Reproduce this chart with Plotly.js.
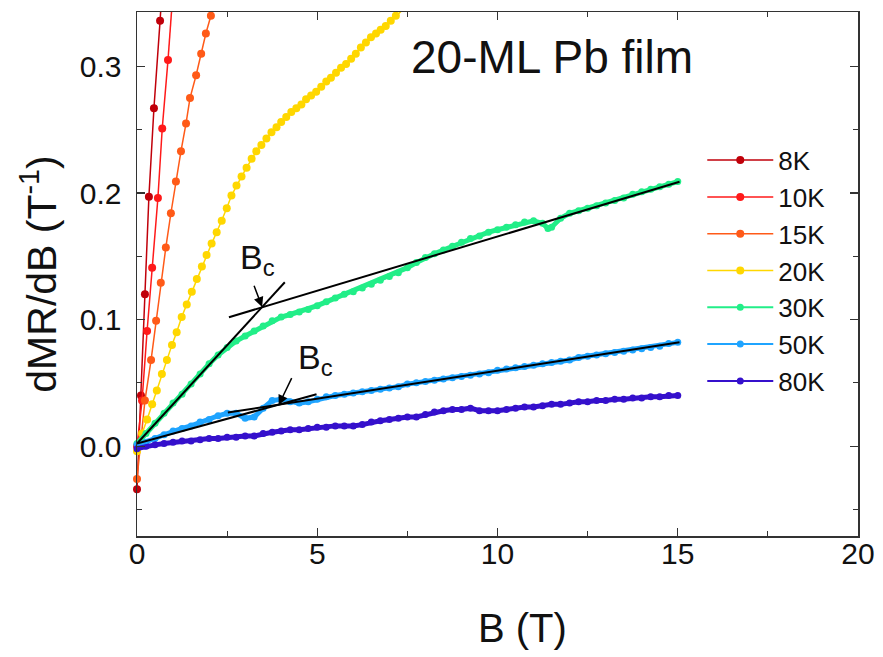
<!DOCTYPE html>
<html>
<head>
<meta charset="utf-8">
<script src="https://cdn.plot.ly/plotly-3.0.1.min.js"></script>
<style>html,body{margin:0;padding:0;background:#fff;}#chart{width:883px;height:657px;}</style>
</head>
<body>
<div id="chart"></div>
<script>
// ---- data ----
const seriesNames = ['8K','10K','15K','20K','30K','50K','80K'];
const seriesColors = ['#c0000a','#ff1a1a','#ff5a18','#ffd700','#22ee88','#1fa4ff','#3510cc'];

const B8  = [0.00, 0.11, 0.22, 0.33, 0.47, 0.64];
const D8  = [-0.034, 0.040, 0.120, 0.197, 0.267, 0.336];
const B8c = [0.64, 0.80];          // line continuing above the frame
const D8c = [0.336, 0.405];

const B10  = [0.00, 0.14, 0.28, 0.42, 0.58, 0.70, 0.86];
const D10  = [0.000, 0.036, 0.091, 0.141, 0.196, 0.251, 0.305];
const B10c = [0.86, 1.00];
const D10c = [0.305, 0.360];

const B15  = [0.00, 0.22, 0.39, 0.53, 0.66, 0.80, 0.94, 1.08, 1.22, 1.36, 1.47, 1.64, 1.78, 1.91, 2.05];
const D15  = [-0.026, 0.036, 0.068, 0.099, 0.129, 0.157, 0.184, 0.209, 0.233, 0.255, 0.275, 0.293, 0.310, 0.326, 0.340];
const B15c = [2.05, 2.20];
const D15c = [0.340, 0.356];

const B20 = [0.00,0.14,0.28,0.42,0.55,0.69,0.83,0.97,1.10,1.24,1.38,1.52,1.66,1.80,1.93,2.07,2.21,2.35,2.49,2.62,
             2.76,2.90,3.04,3.18,3.31,3.45,3.59,3.73,3.87,4.00,4.14,4.28,4.42,4.56,4.69,4.83,4.97,5.11,5.25,5.38,
             5.52,5.66,5.80,5.94,6.07,6.21,6.35,6.49,6.63,6.76,6.90,7.04,7.18,7.32,7.42];
const D20 = [-0.004,0.010,0.021,0.033,0.044,0.057,0.068,0.080,0.090,0.102,0.112,0.122,0.132,0.142,0.151,0.160,0.169,0.178,0.188,0.198,
             0.206,0.213,0.220,0.227,0.233,0.238,0.243,0.248,0.252,0.256,0.260,0.264,0.267,0.270,0.274,0.277,0.280,0.284,0.288,0.291,
             0.295,0.299,0.302,0.306,0.310,0.315,0.319,0.323,0.326,0.329,0.332,0.336,0.340,0.344,0.346];

const B30 = [0,0.25,0.5,0.75,1,1.25,1.5,1.75,2,2.25,2.5,2.75,3,3.25,3.5,3.75,4,4.25,4.5,4.75,5,5.25,5.5,5.75,6,6.25,6.5,6.75,7,7.25,
             7.5,7.75,8,8.25,8.5,8.75,9,9.25,9.5,9.75,10,10.25,10.5,10.75,11,11.25,11.4,11.5,11.75,12,12.25,12.5,12.75,13,13.25,13.5,13.75,14,14.25,14.5,14.75,15];
const D30 = [0.002,0.010,0.018,0.026,0.034,0.041,0.049,0.057,0.065,0.072,0.078,0.083,0.087,0.091,0.095,0.099,0.102,0.104,0.106,0.108,
             0.111,0.114,0.117,0.120,0.122,0.125,0.128,0.131,0.134,0.137,0.141,0.145,0.149,0.152,0.155,0.158,0.161,0.164,0.166,0.169,
             0.171,0.173,0.175,0.177,0.178,0.176,0.172,0.173,0.180,0.184,0.186,0.188,0.190,0.192,0.194,0.196,0.199,0.201,0.203,0.205,0.207,0.209];

const B50 = [0,0.25,0.5,0.75,1,1.25,1.5,1.75,2,2.25,2.5,2.75,3,3.25,3.5,3.75,4,4.25,4.5,4.75,5,5.25,5.5,5.75,6,6.25,6.5,6.75,7,7.25,
             7.5,7.75,8,8.25,8.5,8.75,9,9.25,9.5,9.75,10,10.25,10.5,10.75,11,11.25,11.5,11.75,12,12.25,12.5,12.75,13,13.25,13.5,13.75,14,14.25,14.5,14.75,15];
const D50 = [0.001,0.003,0.006,0.009,0.012,0.014,0.016,0.019,0.021,0.024,0.026,0.026,0.022,0.023,0.030,0.036,0.037,0.035,0.034,0.035,
             0.037,0.039,0.040,0.041,0.042,0.043,0.044,0.045,0.046,0.047,0.049,0.050,0.051,0.052,0.053,0.054,0.055,0.056,0.057,0.058,
             0.060,0.061,0.062,0.063,0.064,0.065,0.066,0.067,0.068,0.070,0.071,0.072,0.073,0.074,0.075,0.076,0.077,0.078,0.079,0.081,0.082];

const B80 = B50.slice();
const D80 = [-0.002,0.000,0.001,0.002,0.003,0.004,0.004,0.005,0.006,0.006,0.007,0.007,0.008,0.008,0.010,0.011,0.012,0.013,0.013,0.014,
             0.015,0.015,0.016,0.016,0.016,0.017,0.019,0.020,0.021,0.022,0.023,0.023,0.025,0.027,0.028,0.029,0.029,0.030,0.028,0.028,
             0.028,0.029,0.030,0.031,0.031,0.032,0.033,0.033,0.034,0.035,0.035,0.036,0.036,0.037,0.037,0.038,0.038,0.039,0.039,0.040,0.040];

// linear fits (end points)
const fit30LowB  = [0, 4.10],   fit30LowD  = [0.002, 0.1295];
const fit30HighB = [2.55, 15.05], fit30HighD = [0.1018, 0.2089];
const fit50LowB  = [0, 4.98],   fit50LowD  = [0.002, 0.041];
const fit50HighB = [2.52, 15.05], fit50HighD = [0.0265, 0.0820];

const bcTips = [[3.47, 0.1100], [3.93, 0.0325]];
const xTicks = [0, 5, 10, 15, 20];
const yTicks = [0.0, 0.1, 0.2, 0.3];

// ---- build ----
const FONT = 'Liberation Sans, Arial, Helvetica, sans-serif';
const traces = [];
function series(i, x, y, msize, lw) {
  return {x: x, y: y, type: 'scatter', mode: 'lines+markers', name: seriesNames[i],
    line: {color: seriesColors[i], width: lw}, marker: {color: seriesColors[i], size: msize},
    cliponaxis: false};
}
function band(i, x, y) {   // thick band look of the densely sampled curves
  return {x: x, y: y, type: 'scatter', mode: 'lines', showlegend: false, hoverinfo: 'skip',
    line: {color: seriesColors[i], width: 5}};
}
function contLine(i, x, y) {
  return {x: x, y: y, type: 'scatter', mode: 'lines', showlegend: false, hoverinfo: 'skip',
    line: {color: seriesColors[i], width: 1.5}};
}
function fit(x, y) {
  return {x: x, y: y, type: 'scatter', mode: 'lines', showlegend: false, hoverinfo: 'skip',
    line: {color: '#000', width: 2}};
}
traces.push(series(0, B8, D8, 8, 1.5));
traces.push(series(1, B10, D10, 8, 1.5));
traces.push(series(2, B15, D15, 8, 1.5));
traces.push(series(3, B20, D20, 8, 1.5));
traces.push(series(4, B30, D30, 7, 2));
traces.push(series(5, B50, D50, 7, 2));
traces.push(series(6, B80, D80, 7, 2));
traces.push(band(4, B30, D30));
traces.push(band(5, B50, D50));
traces.push(band(6, B80, D80));
traces.push(contLine(0, B8c, D8c));
traces.push(contLine(1, B10c, D10c));
traces.push(contLine(2, B15c, D15c));
traces.push(fit(fit30LowB, fit30LowD));
traces.push(fit(fit30HighB, fit30HighD));
traces.push(fit(fit50LowB, fit50LowD));
traces.push(fit(fit50HighB, fit50HighD));

const axisCommon = {
  showgrid: false, zeroline: false, showline: true, linecolor: '#333', linewidth: 1.5,
  mirror: 'allticks', ticks: 'inside', ticklen: 8, tickwidth: 1.2, tickcolor: '#333',
  tickfont: {family: FONT, size: 30, color: '#111'}
};

const layout = {
  width: 883, height: 657,
  margin: {l: 137, r: 25, t: 12, b: 121},
  paper_bgcolor: '#fff', plot_bgcolor: '#fff',
  font: {family: FONT, color: '#111'},
  showlegend: true,
  legend: {x: 0.784, y: 0.762, xanchor: 'left', yanchor: 'top', bgcolor: 'rgba(0,0,0,0)',
    font: {family: FONT, size: 26, color: '#111'}, itemwidth: 66, tracegroupgap: 0},
  xaxis: Object.assign({}, axisCommon, {
    range: [0, 20], tickvals: xTicks, ticktext: xTicks.map(String),
    minor: {dtick: 2.5, tick0: 0, ticks: 'inside', ticklen: 5, tickcolor: '#333', tickwidth: 1},
    ticklabelstandoff: -10
  }),
  yaxis: Object.assign({}, axisCommon, {
    range: [-0.071, 0.343], tickvals: yTicks, ticktext: yTicks.map(v => v.toFixed(1)),
    minor: {dtick: 0.05, tick0: 0, ticks: 'inside', ticklen: 5, tickcolor: '#333', tickwidth: 1},
    ticklabelstandoff: 8,
    title: {text: 'dMR/dB (T<sup>-1</sup>)', font: {family: FONT, size: 41, color: '#111'}, standoff: 10}
  }),
  annotations: [
    {xref: 'paper', yref: 'paper', x: 0.534, y: -0.1756, xanchor: 'center', yanchor: 'middle',
     text: 'B (T)', showarrow: false, font: {family: FONT, size: 40, color: '#111'}},
    {xref: 'paper', yref: 'paper', x: 0.576, y: 0.914, xanchor: 'center', yanchor: 'middle',
     text: '20-ML Pb film', showarrow: false, font: {family: FONT, size: 46, color: '#111'}},
    {x: 2.80, y: 0.1476, xanchor: 'left', yanchor: 'middle', text: 'B<sub>c</sub>', showarrow: false,
     font: {family: FONT, size: 34, color: '#111'}},
    {x: 4.42, y: 0.0687, xanchor: 'left', yanchor: 'middle', text: 'B<sub>c</sub>', showarrow: false,
     font: {family: FONT, size: 34, color: '#111'}},
    {x: bcTips[0][0], y: bcTips[0][1], ax: -11, ay: -29, text: ' ', showarrow: true,
     arrowhead: 2, arrowsize: 1.3, arrowwidth: 1.5, arrowcolor: '#000'},
    {x: bcTips[1][0], y: bcTips[1][1], ax: 16, ay: -33, text: ' ', showarrow: true,
     arrowhead: 2, arrowsize: 1.3, arrowwidth: 1.5, arrowcolor: '#000'}
  ]
};

Plotly.newPlot('chart', traces, layout, {displayModeBar: false, staticPlot: true});
</script>
</body>
</html>
